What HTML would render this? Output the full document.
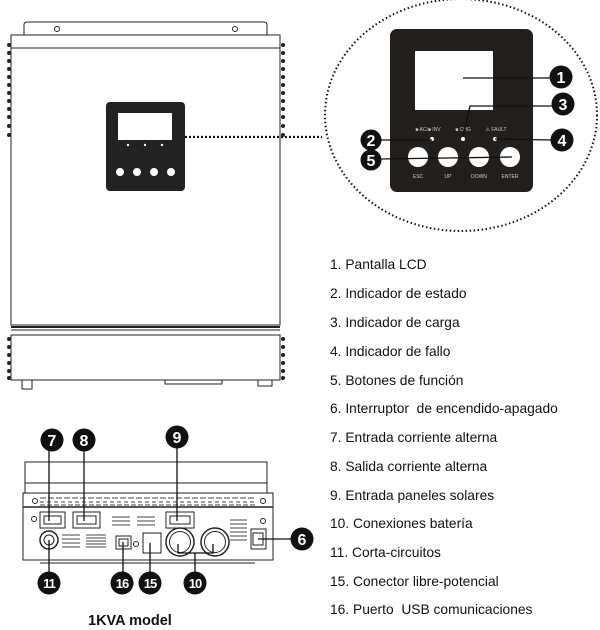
<!DOCTYPE html>
<html><head><meta charset="utf-8"><style>
body{margin:0;background:#fff;width:600px;height:630px;overflow:hidden}
svg{display:block}
.t{font-family:"Liberation Sans",sans-serif;font-size:13.8px;fill:#111}
.n{font-family:"Liberation Sans",sans-serif;font-weight:bold;fill:#fff;text-anchor:middle}
.s{font-family:"Liberation Sans",sans-serif;font-size:5px;fill:#ccc;text-anchor:middle}
</style></head><body>
<svg width="600" height="630" viewBox="0 0 600 630" xmlns="http://www.w3.org/2000/svg">
<g fill="none" stroke="#222" stroke-width="1">
 <path d="M24,35 V25 Q24,22 27,22 H264 Q267,22 267,25 V35"/>
 <circle cx="57" cy="29" r="2.5"/><circle cx="235" cy="29" r="2.5"/>
 <rect x="11" y="35" width="269" height="13"/>
 <rect x="11" y="48" width="269" height="277"/>
 <line x1="11" y1="327" x2="280" y2="327" stroke-width="2"/>
 <rect x="11" y="335" width="269" height="45"/>
 <line x1="11" y1="330" x2="280" y2="330"/>
 <path d="M22,380 V389 H32 V380 M258,380 V386 H272 V380 M165,380 V384 H222 V380"/>
</g>
<g fill="#222">
 <g id="bl"><circle cx="9" cy="45" r="2"/><circle cx="9" cy="53" r="2"/><circle cx="9" cy="61" r="2"/><circle cx="9" cy="69" r="2"/><circle cx="9" cy="77" r="2"/><circle cx="9" cy="85" r="2"/><circle cx="9" cy="93" r="2"/><circle cx="9" cy="101" r="2"/><circle cx="9" cy="109" r="2"/><circle cx="9" cy="117" r="2"/><circle cx="9" cy="126" r="2"/><circle cx="9" cy="135" r="2"/></g>
 <use href="#bl" x="274"/>
 <g id="bl2"><circle cx="9" cy="339" r="2"/><circle cx="9" cy="347" r="2"/><circle cx="9" cy="355" r="2"/><circle cx="9" cy="363" r="2"/><circle cx="9" cy="371" r="2"/><circle cx="9" cy="378" r="2"/></g>
 <use href="#bl2" x="274"/>
 <rect x="106" y="102" width="79" height="89" rx="4"/>
</g>
<rect x="118" y="113" width="54" height="27" fill="#fff"/>
<g fill="#fff"><circle cx="128" cy="145" r="1.2"/><circle cx="145" cy="145" r="1.2"/><circle cx="162" cy="145" r="1.2"/>
<circle cx="120" cy="172" r="4"/><circle cx="137" cy="172" r="4"/><circle cx="154" cy="172" r="4"/><circle cx="171" cy="172" r="4"/></g>
<line x1="185" y1="137" x2="322" y2="137" stroke="#111" stroke-width="2.2" stroke-dasharray="2,2"/>
<ellipse cx="461" cy="115" rx="136" ry="116" fill="none" stroke="#111" stroke-width="2" stroke-dasharray="1.5,2.5"/>
<rect x="390" y="29" width="143" height="163" rx="7" fill="#231f1c"/>
<rect x="415" y="51" width="78" height="59" fill="#fff"/>
<g class="s"><text x="428" y="131">■ AC/■ INV</text><text x="463" y="131">■ CHG</text><text x="496" y="131">⚠ FAULT</text>
<text x="418" y="178">ESC</text><text x="448" y="178">UP</text><text x="479" y="178">DOWN</text><text x="510" y="178">ENTER</text></g>
<g fill="#fff"><circle cx="432" cy="139" r="2"/><circle cx="463" cy="139" r="2"/><circle cx="495" cy="139" r="2"/>
<circle cx="418" cy="157" r="10"/><circle cx="448" cy="157" r="10"/><circle cx="479" cy="157" r="10"/><circle cx="510" cy="157" r="10"/></g>
<g stroke="#111" stroke-width="1.3" fill="none">
 <line x1="463" y1="78" x2="552" y2="78"/>
 <polyline points="463,136 470,106 555,106"/>
 <line x1="380" y1="140" x2="432" y2="140"/>
 <line x1="495" y1="139" x2="553" y2="140"/>
 <line x1="380" y1="159" x2="512" y2="157"/>
</g>
<g fill="#111">
 <circle cx="561" cy="77" r="11.5"/><circle cx="563" cy="104" r="11.5"/><circle cx="371" cy="140" r="10.5"/><circle cx="562" cy="140" r="11.5"/><circle cx="371" cy="160" r="10.5"/>
</g>
<g class="n" font-size="16"><text x="561" y="83">1</text><text x="563" y="110">3</text><text x="371" y="146">2</text><text x="562" y="146">4</text><text x="371" y="166">5</text></g>
<g class="t">
<text x="330" y="269">1. Pantalla LCD</text>
<text x="330" y="298">2. Indicador de estado</text>
<text x="330" y="327">3. Indicador de carga</text>
<text x="330" y="356">4. Indicador de fallo</text>
<text x="330" y="385">5. Botones de función</text>
<text x="330" y="413">6. Interruptor &#160;de encendido-apagado</text>
<text x="330" y="442">7. Entrada corriente alterna</text>
<text x="330" y="471">8. Salida corriente alterna</text>
<text x="330" y="500">9. Entrada paneles solares</text>
<text x="330" y="528">10. Conexiones batería</text>
<text x="330" y="557">11. Corta-circuitos</text>
<text x="330" y="586">15. Conector libre-potencial</text>
<text x="330" y="614">16. Puerto &#160;USB comunicaciones</text>
</g>
<g fill="none" stroke="#222" stroke-width="1">
 <rect x="25" y="462" width="242" height="31"/>
 <line x1="25" y1="483" x2="267" y2="483"/>
 <rect x="23" y="493" width="250" height="67"/>
 <line x1="23" y1="507" x2="273" y2="507" stroke-width="1.5"/>
 <line x1="40" y1="563" x2="255" y2="563"/>
 <rect x="40" y="512" width="25" height="16"/><rect x="44" y="516" width="17" height="8"/>
 <rect x="73" y="512" width="27" height="16"/><rect x="77" y="516" width="19" height="8"/>
 <rect x="166" y="512" width="28" height="16"/><rect x="170" y="516" width="20" height="8"/>
 <circle cx="180" cy="542" r="14" stroke-width="1.5"/><circle cx="180" cy="542" r="10.5"/>
 <circle cx="215" cy="542" r="14" stroke-width="1.5"/><circle cx="215" cy="542" r="10.5"/>
 <rect x="251" y="529" width="15" height="20"/><rect x="253" y="533" width="10" height="12"/>
 <circle cx="49" cy="540" r="9" stroke-width="1.5"/><circle cx="49" cy="540" r="5"/>
 <rect x="116" y="536" width="15" height="13"/><rect x="119" y="539" width="9" height="7"/>
 <rect x="143" y="533" width="18" height="20"/>
 <circle cx="35" cy="501" r="2.5"/><circle cx="263" cy="501" r="2.5"/><circle cx="34" cy="519" r="2.5"/><circle cx="263" cy="521" r="2.5"/><circle cx="136" cy="544" r="2.5"/>
</g>
<g stroke="#444" stroke-width="1">
 <line x1="40" y1="498" x2="255" y2="498" stroke-dasharray="6,2"/><line x1="40" y1="502" x2="255" y2="502" stroke-dasharray="4,3"/><line x1="40" y1="505" x2="255" y2="505" stroke-dasharray="5,2"/>
 <line x1="86" y1="535" x2="106" y2="535"/><line x1="86" y1="538" x2="106" y2="538"/><line x1="86" y1="541" x2="106" y2="541"/><line x1="86" y1="544" x2="106" y2="544"/><line x1="86" y1="547" x2="106" y2="547"/>
 <line x1="62" y1="535" x2="80" y2="535"/><line x1="62" y1="539" x2="80" y2="539"/><line x1="62" y1="543" x2="80" y2="543"/><line x1="62" y1="547" x2="80" y2="547"/>
 <line x1="112" y1="517" x2="130" y2="517"/><line x1="112" y1="521" x2="130" y2="521"/><line x1="112" y1="525" x2="130" y2="525"/>
 <line x1="137" y1="517" x2="155" y2="517"/><line x1="137" y1="521" x2="155" y2="521"/><line x1="137" y1="525" x2="155" y2="525"/>
 <line x1="230" y1="520" x2="247" y2="520"/><line x1="230" y1="524" x2="247" y2="524"/><line x1="230" y1="528" x2="247" y2="528"/><line x1="230" y1="532" x2="247" y2="532"/><line x1="230" y1="536" x2="247" y2="536"/><line x1="230" y1="540" x2="247" y2="540"/>
</g>
<g stroke="#111" stroke-width="1.3" fill="none">
 <line x1="49" y1="450" x2="49" y2="521"/>
 <line x1="84" y1="450" x2="84" y2="521"/>
 <line x1="177" y1="448" x2="177" y2="521"/>
 <line x1="258" y1="539" x2="292" y2="539"/>
 <line x1="49" y1="540" x2="49" y2="573"/>
 <line x1="123" y1="542" x2="123" y2="573"/>
 <line x1="150" y1="543" x2="150" y2="573"/>
 <polyline points="178,544 178,553 213,553 213,544"/>
 <line x1="195" y1="553" x2="195" y2="573"/>
</g>
<g fill="#111">
 <circle cx="52" cy="440" r="11.5"/><circle cx="84" cy="440" r="11.5"/><circle cx="177" cy="437" r="11.5"/><circle cx="302" cy="539" r="11.5"/>
 <circle cx="49" cy="583" r="11.5"/><circle cx="122" cy="583" r="11.5"/><circle cx="150" cy="583" r="11.5"/><circle cx="195" cy="583" r="11.5"/>
</g>
<g class="n" font-size="16"><text x="52" y="446">7</text><text x="84" y="446">8</text><text x="177" y="443">9</text><text x="302" y="545">6</text></g>
<g class="n" font-size="13" letter-spacing="-1"><text x="49" y="588">11</text><text x="122" y="588">16</text><text x="150" y="588">15</text><text x="195" y="588">10</text></g>
<text x="88" y="625" font-family="Liberation Sans,sans-serif" font-weight="bold" font-size="14.5" fill="#111">1KVA model</text>
</svg>
</body></html>
